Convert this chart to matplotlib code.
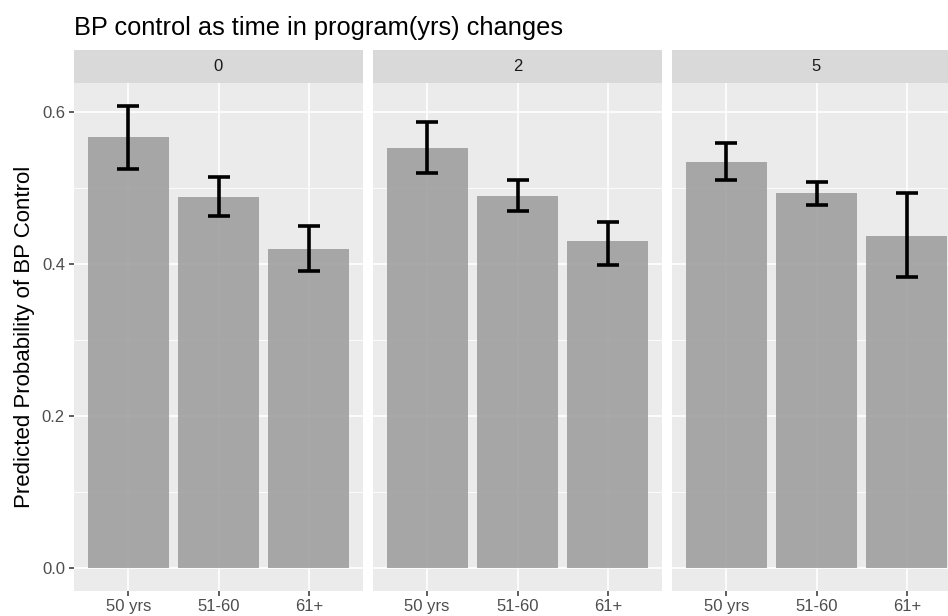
import numpy as np
import matplotlib
matplotlib.use('Agg')
import matplotlib.pyplot as plt

plt.rcParams['font.family'] = ['Liberation Sans', 'DejaVu Sans']

# Data
facets = ['0', '2', '5']
age_groups = ['50 yrs', '51-60', '61+']
prob = {
    '0': [0.567, 0.488, 0.420],
    '2': [0.553, 0.489, 0.430],
    '5': [0.534, 0.493, 0.437],
}
lower = {
    '0': [0.525, 0.463, 0.390],
    '2': [0.520, 0.470, 0.399],
    '5': [0.510, 0.478, 0.383],
}
upper = {
    '0': [0.608, 0.514, 0.450],
    '2': [0.587, 0.511, 0.455],
    '5': [0.559, 0.508, 0.493],
}

W, H = 948, 616
fig = plt.figure(figsize=(W / 100, H / 100), dpi=100)
fig.patch.set_facecolor('white')

panel_w = 289
gap = 10
left0 = 74
top_px = 83
bottom_px = 591
strip_h = 33

ymin, ymax = -0.0304, 0.638

for i, f in enumerate(facets):
    x0 = left0 + i * (panel_w + gap)
    ax = fig.add_axes([x0 / W, 1 - bottom_px / H, panel_w / W, (bottom_px - top_px) / H])
    ax.set_facecolor('#EBEBEB')
    for s in ax.spines.values():
        s.set_visible(False)

    x = np.arange(1, len(age_groups) + 1)
    ax.set_xlim(0.4, 3.6)
    ax.set_ylim(ymin, ymax)

    # grid
    for yv in [0.1, 0.3, 0.5]:
        ax.axhline(yv, color='white', lw=0.6, zorder=0)
    for yv in [0.0, 0.2, 0.4, 0.6]:
        ax.axhline(yv, color='white', lw=1.2, zorder=0)
    for xv in x:
        ax.axvline(xv, color='white', lw=1.2, zorder=0)

    ax.bar(x, prob[f], width=0.9, color='#9a9a9a', alpha=0.85, zorder=1)
    yerr = [np.array(prob[f]) - np.array(lower[f]), np.array(upper[f]) - np.array(prob[f])]
    ax.errorbar(x, prob[f], yerr=yerr, fmt='none', ecolor='black',
                elinewidth=2.6, capsize=8, capthick=2.6, zorder=3)

    ax.set_xticks(x)
    ax.set_xticklabels(age_groups, fontsize=12, color='#4D4D4D')
    ax.tick_params(axis='x', length=3.5, width=1.1, color='#333333', pad=2.5)
    if i == 0:
        ax.set_yticks([0.0, 0.2, 0.4, 0.6])
        ax.set_yticklabels(['0.0', '0.2', '0.4', '0.6'], fontsize=12, color='#4D4D4D')
        ax.tick_params(axis='y', length=3.5, width=1.1, color='#333333', pad=3)
        ax.set_ylabel('Predicted Probability of BP Control', fontsize=16, color='black', labelpad=5)
    else:
        ax.set_yticks([])

    # facet strip
    sax = fig.add_axes([x0 / W, 1 - top_px / H, panel_w / W, strip_h / H])
    sax.set_facecolor('#D9D9D9')
    sax.set_xticks([])
    sax.set_yticks([])
    for s in sax.spines.values():
        s.set_visible(False)
    sax.text(0.5, 0.5, f, ha='center', va='center', fontsize=12, color='#1A1A1A',
             transform=sax.transAxes)

fig.text(left0 / W, 1 - 28 / H, 'BP control as time in program(yrs) changes',
         fontsize=18.3, ha='left', va='center', color='black')

fig.savefig('out.png', dpi=100)
